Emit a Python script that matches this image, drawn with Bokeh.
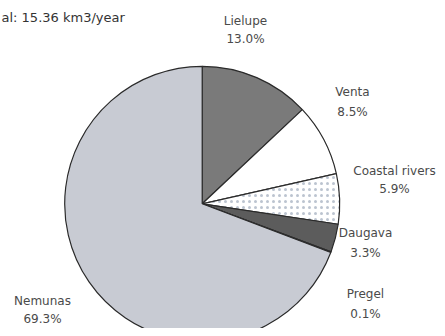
import math
from bokeh.plotting import figure
from bokeh.models import Range1d, ColumnDataSource
from bokeh.core.properties import value
from bokeh.embed import file_html
from bokeh.resources import INLINE

# ---- data ----
rivers = ["Lielupe", "Venta", "Coastal rivers", "Daugava", "Pregel", "Nemunas"]
shares = [13.0, 8.5, 5.9, 3.3, 0.1, 69.3]
title_text = "al: 15.36 km3/year"

# ---- styles / layout ----
fills = ["#7a7a7a", "#ffffff", "#ffffff", "#5c5c5c", "#9a9a9a", "#c8cbd3"]
hatches = [" ", " ", "dot", " ", " ", " "]
W, H = 437, 328
cx, cy, R = 201.7, H - 203.3, 137.5
# label anchors (picture pixel positions: x centre, name-line y, percent-line y)
label_pos = {
    "Lielupe": (245, 20, 38),
    "Venta": (352, 91, 111),
    "Coastal rivers": (394, 170, 188),
    "Daugava": (365, 232, 252),
    "Pregel": (365, 293, 313),
    "Nemunas": (42, 300, 318),
}

total = sum(shares)
starts, ends = [], []
acc = 0.0
for s in shares:
    starts.append(math.pi / 2 - 2 * math.pi * acc / total)
    acc += s
    ends.append(math.pi / 2 - 2 * math.pi * acc / total)

src = ColumnDataSource(dict(name=rivers, share=shares, start=starts, end=ends,
                            fill=fills, hatch=hatches,
                            x=[cx] * len(rivers), y=[cy] * len(rivers)))

p = figure(width=W, height=H, output_backend="svg", toolbar_location=None,
           x_range=Range1d(0, W), y_range=Range1d(0, H), min_border=0)
p.axis.visible = False
p.grid.visible = False
p.outline_line_color = None
p.background_fill_color = "white"

p.wedge(x="x", y="y", radius=R, start_angle="start", end_angle="end",
        direction="clock", fill_color="fill", line_color="#2a2a2a", line_width=1.2,
        hatch_pattern="hatch", hatch_color="#bcc4d0", hatch_scale=6, hatch_weight=1.0,
        source=src)

name_x = [label_pos[r][0] for r in rivers]
name_y = [H - label_pos[r][1] for r in rivers]
pct_y = [H - label_pos[r][2] for r in rivers]
pct_text = [f"{s:.1f}%" for s in shares]

p.text(x=name_x, y=name_y, text=rivers, text_font=value("DejaVu Sans"),
       text_font_size="12px", text_color="#4a4a4a", text_align="center",
       text_baseline="middle")
p.text(x=name_x, y=pct_y, text=pct_text, text_font=value("DejaVu Sans"),
       text_font_size="12px", text_color="#4a4a4a", text_align="center",
       text_baseline="middle")

p.text(x=[1], y=[H - 17], text=[title_text], text_font=value("DejaVu Sans"),
       text_font_size="13px", text_color="#333333", text_align="left",
       text_baseline="middle")

open("out.html", "w").write(file_html(p, INLINE))
